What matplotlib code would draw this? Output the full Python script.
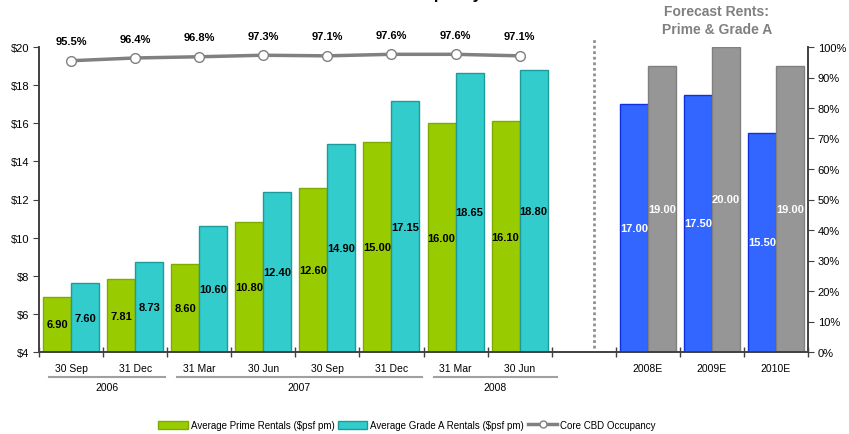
"""
Core CBD rents & occupancy chart (recreation)
"""

import matplotlib
matplotlib.use('Agg')
import matplotlib.pyplot as plt
from matplotlib.patches import Patch
from matplotlib.lines import Line2D

# ==================== data ====================

months = ['30 Sep', '31 Dec', '31 Mar', '30 Jun', '30 Sep', '31 Dec', '31 Mar', '30 Jun']
prime = [6.90, 7.81, 8.60, 10.80, 12.60, 15.00, 16.00, 16.10]
grade_a = [7.60, 8.73, 10.60, 12.40, 14.90, 17.15, 18.65, 18.80]
occupancy = [95.5, 96.4, 96.8, 97.3, 97.1, 97.6, 97.6, 97.1]

years = ['2006', '2007', '2008']
year_spans = [(0, 2), (2, 6), (6, 8)]

forecast_years = ['2008E', '2009E', '2010E']
forecast_prime = [17.00, 17.50, 15.50]
forecast_grade_a = [19.00, 20.00, 19.00]

# ==================== style ====================

GREEN, GREEN_EDGE = '#99CC00', '#7FAA00'
CYAN, CYAN_EDGE = '#33CCCC', '#1E9A9A'
BLUE, BLUE_EDGE = '#3366FF', '#1030E0'
GREY, GREY_EDGE = '#969696', '#808080'
AXIS = '#404040'

plt.rcParams['font.family'] = ['Liberation Sans', 'DejaVu Sans']
NARROW = ['Liberation Sans Narrow', 'Liberation Sans', 'DejaVu Sans']

fig = plt.figure(figsize=(8.49, 4.35), dpi=100)
W, H = 849, 435
x0, x1, y_top, y_bot = 39, 808, 48, 353
ax = fig.add_axes([x0 / W, 1 - y_bot / H, (x1 - x0) / W, (y_bot - y_top) / H])
ax2 = ax.twinx()

bw = 0.4375
n = len(months)

# historical bars
for i in range(n):
    c = i + 0.5
    ax.bar(c - bw / 2, prime[i], bw, color=GREEN, edgecolor=GREEN_EDGE, linewidth=1)
    ax.bar(c + bw / 2, grade_a[i], bw, color=CYAN, edgecolor=CYAN_EDGE, linewidth=1)
    ax.text(c - bw / 2, (4 + prime[i]) / 2, f'{prime[i]:.2f}', ha='center', va='center',
            fontsize=8, fontweight='bold', color='black')
    ax.text(c + bw / 2, (4 + grade_a[i]) / 2, f'{grade_a[i]:.2f}', ha='center', va='center',
            fontsize=8, fontweight='bold', color='black')

# forecast bars
for j in range(len(forecast_years)):
    c = n + 1 + j + 0.5
    ax.bar(c - bw / 2, forecast_prime[j], bw, color=BLUE, edgecolor=BLUE_EDGE, linewidth=1)
    ax.bar(c + bw / 2, forecast_grade_a[j], bw, color=GREY, edgecolor=GREY_EDGE, linewidth=1)
    ax.text(c - bw / 2, (4 + forecast_prime[j]) / 2, f'{forecast_prime[j]:.2f}', ha='center',
            va='center', fontsize=8, fontweight='bold', color='white')
    ax.text(c + bw / 2, (4 + forecast_grade_a[j]) / 2, f'{forecast_grade_a[j]:.2f}', ha='center',
            va='center', fontsize=8, fontweight='bold', color='white')

ax.set_xlim(0, 12)
ax.set_ylim(4, 20)
ax.set_yticks(range(4, 21, 2))
ax.set_yticklabels([f'${v}' for v in range(4, 21, 2)], fontsize=8)
ax.set_xticks(range(0, 13))
ax.set_xticklabels([])
ax.tick_params(axis='x', direction='inout', length=7, color=AXIS, width=1)
ax.tick_params(axis='y', direction='out', length=4, color=AXIS, pad=3)

# occupancy line on right axis
xs = [i + 0.5 for i in range(n)]
ax2.plot(xs, occupancy, color=GREY_EDGE, lw=2.5, marker='o', ms=7,
         markerfacecolor='white', markeredgecolor=GREY_EDGE, markeredgewidth=1, zorder=5)
for x, v in zip(xs, occupancy):
    ax2.annotate(f'{v:.1f}%', (x, v), xytext=(0, 14), textcoords='offset points',
                 ha='center', va='center', fontsize=8, fontweight='bold')
ax2.set_ylim(0, 100)
ax2.set_yticks(range(0, 101, 10))
ax2.set_yticklabels([f'{v}%' for v in range(0, 101, 10)], fontsize=8)
ax2.tick_params(axis='y', direction='out', length=4, color=AXIS, pad=3)

for a in (ax, ax2):
    a.spines['top'].set_visible(False)
    for s in ('left', 'right', 'bottom'):
        a.spines[s].set_color(AXIS)
        a.spines[s].set_linewidth(1.2)

# dotted separator
ax.plot([8.66, 8.66], [4.2, 20.4], linestyle=(0, (1, 1)), color='#909090', lw=2,
        clip_on=False, zorder=1)

# category labels
tr = ax.get_xaxis_transform()
for i, m in enumerate(months):
    ax.text(i + 0.5, -0.052, m, transform=tr, ha='center', va='center', fontsize=7.5,
            family=NARROW)
for j, fy in enumerate(forecast_years):
    ax.text(n + 1 + j + 0.5, -0.052, fy, transform=tr, ha='center', va='center',
            fontsize=7.5, family=NARROW)
for yr, (a, b) in zip(years, year_spans):
    xa, xb = a + 0.16, b + (0.08 if b == n else -0.03)
    ax.plot([xa, xb], [-0.082, -0.082], transform=tr, color='#A0A0A0', lw=1.5, clip_on=False)
    ax.text((xa + xb) / 2, -0.114, yr, transform=tr, ha='center', va='center',
            fontsize=7.5, family=NARROW)

# titles
fig.text(482 / W, 1 + 1.5 / H, 'Rents & Occupancy', ha='right', va='baseline',
         fontsize=12, fontweight='bold')
fig.text(717 / W, 1 - 21 / H, 'Forecast Rents:\nPrime & Grade A', ha='center', va='center',
         fontsize=10, fontweight='bold', color='#808080', linespacing=1.3)

# legend
handles = [
    Patch(facecolor=GREEN, edgecolor=GREEN_EDGE, label='Average Prime Rentals ($psf pm)'),
    Patch(facecolor=CYAN, edgecolor=CYAN_EDGE, label='Average Grade A Rentals ($psf pm)'),
    Line2D([], [], color=GREY_EDGE, lw=2.5, marker='o', ms=5, markerfacecolor='white',
           markeredgecolor=GREY_EDGE, label='Core CBD Occupancy'),
]
fig.legend(handles=handles, loc='center', bbox_to_anchor=(407 / W, 1 - 426 / H), ncol=3,
           frameon=False, prop={'family': NARROW, 'size': 7},
           handlelength=3.0, handleheight=0.9, handletextpad=0.3, columnspacing=0.4)

fig.savefig('out.png', dpi=100)
